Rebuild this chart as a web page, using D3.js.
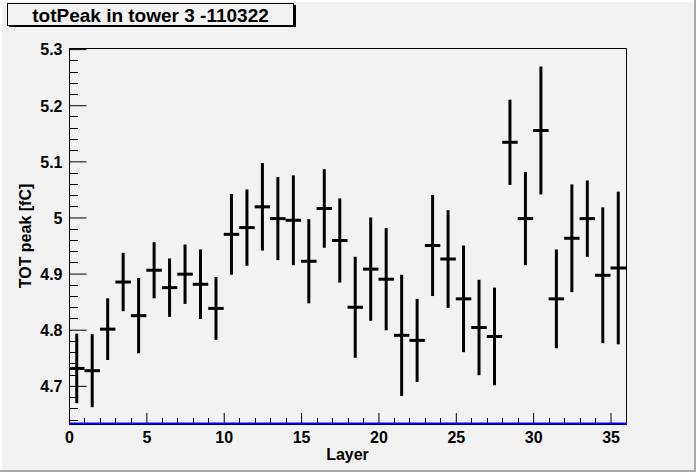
<!DOCTYPE html>
<html>
<head>
<meta charset="utf-8">
<script src="https://cdn.jsdelivr.net/npm/d3@7"></script>
<style>
  body { margin: 0; background: #f2f2f2; }
  svg text { font-family: "Liberation Sans", Arial, Helvetica, sans-serif; font-weight: bold; }
</style>
</head>
<body>
<svg id="chart" width="696" height="472"></svg>
<script>
// layers (bin low edges), peak per layer and its error
const layers = [0, 1, 2, 3, 4, 5, 6, 7, 8, 9, 10, 11, 12, 13, 14, 15, 16, 17,
  18, 19, 20, 21, 22, 23, 24, 25, 26, 27, 28, 29, 30, 31, 32, 33, 34, 35];
const totPeak = [4.731, 4.727, 4.801, 4.885, 4.825, 4.906, 4.875, 4.899, 4.881, 4.838,
  4.970, 4.982, 5.019, 4.998, 4.995, 4.922, 5.016, 4.959, 4.840, 4.908,
  4.890, 4.790, 4.781, 4.950, 4.926, 4.855, 4.804, 4.788, 5.134, 4.998,
  5.155, 4.855, 4.963, 4.998, 4.897, 4.910];
const totErr = [0.062, 0.065, 0.055, 0.052, 0.067, 0.050, 0.052, 0.053, 0.062, 0.056,
  0.072, 0.068, 0.078, 0.074, 0.080, 0.075, 0.070, 0.075, 0.090, 0.092,
  0.091, 0.108, 0.074, 0.090, 0.087, 0.095, 0.085, 0.087, 0.076, 0.083,
  0.114, 0.088, 0.096, 0.068, 0.121, 0.136];
const xTicks = [0, 5, 10, 15, 20, 25, 30, 35];
const yTicks = [4.7, 4.8, 4.9, 5, 5.1, 5.2, 5.3];
const xDomain = [0, 36];
const yDomain = [4.632, 5.302];
const title = "totPeak in tower 3 -110322";
const xTitle = "Layer";
const yTitle = "TOT peak [fC]";

const svg = d3.select("#chart");
const W = +svg.attr("width"), H = +svg.attr("height");
const margin = { top: 48, right: 70, bottom: 48, left: 69 };

const x = d3.scaleLinear().domain(xDomain).range([margin.left, W - margin.right]);
const y = d3.scaleLinear().domain(yDomain).range([H - margin.bottom, margin.top]);

// canvas with root-style bevel
svg.append("rect").attr("width", W).attr("height", H).attr("fill", "#f2f2f2");
svg.append("path").attr("d", `M1,${H} V1 H${W}`).attr("fill", "none")
  .attr("stroke", "#ffffff").attr("stroke-width", 2);
svg.append("path").attr("d", `M0,${H - 1} H${W - 1} V0`).attr("fill", "none")
  .attr("stroke", "#a8a8a8").attr("stroke-width", 2);

// frame
svg.append("rect")
  .attr("x", x(xDomain[0]) + 0.5).attr("y", y(yDomain[1]) + 0.5)
  .attr("width", x(xDomain[1]) - x(xDomain[0]))
  .attr("height", y(yDomain[0]) - y(yDomain[1]))
  .attr("fill", "none").attr("stroke", "#000").attr("stroke-width", 1);

// minor ticks
const yMinor = d3.range(4.64, 5.301, 0.02).filter((v) => !yTicks.some((t) => Math.abs(t - v) < 1e-6));
const xMinor = layers.filter((v) => !xTicks.includes(v));

svg.append("g")
  .selectAll("line")
  .data(yMinor)
  .join("line")
  .attr("x1", x(0)).attr("x2", x(0) + 9)
  .attr("y1", (d) => Math.round(y(d)) + 0.5).attr("y2", (d) => Math.round(y(d)) + 0.5)
  .attr("stroke", "#000");

svg.append("g")
  .selectAll("line")
  .data(xMinor)
  .join("line")
  .attr("x1", (d) => Math.round(x(d)) + 0.5).attr("x2", (d) => Math.round(x(d)) + 0.5)
  .attr("y1", y(yDomain[0])).attr("y2", y(yDomain[0]) - 6)
  .attr("stroke", "#000");

// axes
const yAxis = svg.append("g")
  .attr("transform", `translate(${x(0) + 0.5},0)`)
  .call(d3.axisLeft(y).tickValues(yTicks).tickSize(-17).tickPadding(7).tickFormat((d) => String(d)));

const xAxis = svg.append("g")
  .attr("transform", `translate(0,${y(yDomain[0])})`)
  .call(d3.axisBottom(x).tickValues(xTicks).tickSize(-11).tickPadding(8).tickFormat((d) => String(d)));

svg.selectAll(".domain").remove();
svg.selectAll(".tick line").attr("stroke", "#000");
svg.selectAll(".tick text").attr("font-size", 16).attr("fill", "#000")
  .attr("font-family", "Liberation Sans, Arial, sans-serif");
yAxis.selectAll(".tick text").attr("dy", "0.36em");

// blue baseline
svg.append("line")
  .attr("x1", x(xDomain[0])).attr("x2", x(xDomain[1]) + 1)
  .attr("y1", y(yDomain[0]) - 0.5).attr("y2", y(yDomain[0]) - 0.5)
  .attr("stroke", "#0000ff").attr("stroke-width", 2);

// error bars
const data = layers.map((l, i) => ({ layer: l, v: totPeak[i], e: totErr[i] }));
const g = svg.append("g").attr("stroke", "#000").attr("stroke-width", 3);

g.selectAll(".h")
  .data(data)
  .join("line")
  .attr("class", "h")
  .attr("x1", (d) => x(d.layer)).attr("x2", (d) => x(d.layer + 1))
  .attr("y1", (d) => y(d.v)).attr("y2", (d) => y(d.v));

g.selectAll(".v")
  .data(data)
  .join("line")
  .attr("class", "v")
  .attr("x1", (d) => x(d.layer + 0.5)).attr("x2", (d) => x(d.layer + 0.5))
  .attr("y1", (d) => y(d.v - d.e)).attr("y2", (d) => y(d.v + d.e));

// axis titles
svg.append("text")
  .attr("x", (x(xDomain[0]) + x(xDomain[1])) / 2).attr("y", 460)
  .attr("text-anchor", "middle").attr("font-size", 16)
  .text(xTitle);

svg.append("text")
  .attr("transform", `translate(31,${(y(yDomain[0]) + y(yDomain[1])) / 2}) rotate(-90)`)
  .attr("text-anchor", "middle").attr("font-size", 16)
  .text(yTitle);

// title box
svg.append("rect").attr("x", 9).attr("y", 5).attr("width", 287).attr("height", 22).attr("fill", "#000");
svg.append("rect").attr("x", 7.5).attr("y", 3.5).attr("width", 286).attr("height", 22)
  .attr("fill", "#f2f2f2").attr("stroke", "#000");
svg.append("text")
  .attr("x", 150.5).attr("y", 21.5)
  .attr("text-anchor", "middle").attr("font-size", 19)
  .text(title);
</script>
</body>
</html>
